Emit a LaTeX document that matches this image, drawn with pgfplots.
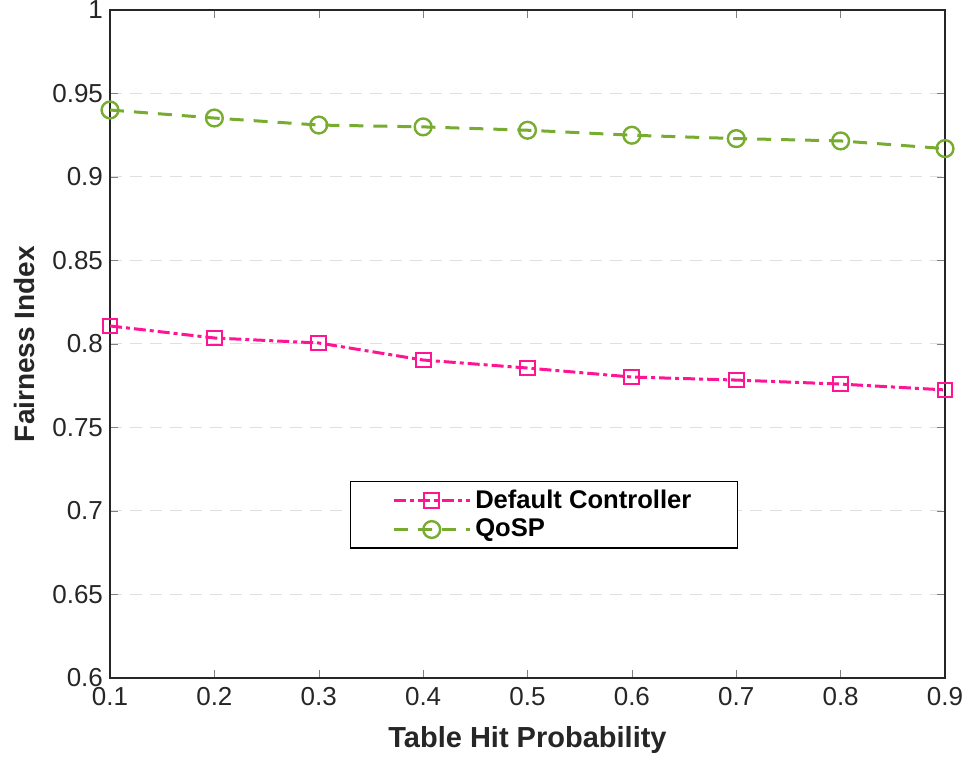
\documentclass[border=0pt]{standalone}
\usepackage{pgfplots}
\pgfplotsset{compat=1.18}
\usepackage{fontspec}
\setmainfont{Liberation Sans}
\definecolor{defpink}{RGB}{255,20,147}
\definecolor{qosgreen}{RGB}{119,172,48}
\definecolor{tickgray}{RGB}{38,38,38}

\begin{document}
\begin{tikzpicture}
\begin{axis}[
    scale only axis,
    width=417.5pt,
    height=334pt,
    xmin=0.1, xmax=0.9,
    ymin=0.6, ymax=1,
    xtick={0.1,0.2,...,0.9},
    ytick={0.6,0.65,...,1.0},
    yticklabels={0.6,0.65,0.7,0.75,0.8,0.85,0.9,0.95,1},
    xticklabel style={/pgf/number format/fixed, yshift=-1pt},
    /pgf/number format/assume math mode=true,
    tick label style={font=\fontsize{13}{15}\selectfont, text=tickgray},
    tick align=inside,
    major tick length=4pt,
    axis line style={tickgray, line width=0.6pt},
    ymajorgrids,
    grid style={dash pattern=on 6pt off 4pt, gray!25, line width=0.5pt},
    xlabel={\textbf{Table Hit Probability}},
    ylabel={\textbf{Fairness Index}},
    xlabel style={font=\fontsize{14.5}{16}\selectfont, text=tickgray,
        at={(axis description cs:0.5,-0.093)}, anchor=center},
    ylabel style={font=\fontsize{14}{16}\selectfont, text=tickgray,
        at={(axis description cs:-0.102,0.5)}, anchor=center},
    legend style={at={(0.287,0.295)}, anchor=north west,
        font=\fontsize{12.8}{15}\selectfont\bfseries,
        draw=black, line width=0.6pt,
        inner xsep=21pt, inner ysep=2pt, row sep=0pt},
    legend cell align=left,
    legend image code/.code={
        \draw[mark repeat=2,mark phase=2]
        plot coordinates {(0pt,0pt) (19pt,0pt) (38pt,0pt)};},
]
\addplot[color=defpink, line width=1.5pt, dash pattern=on 6pt off 2pt on 2pt off 2pt,
    mark=square, mark size=3.7pt, mark options={solid, line width=1pt}]
coordinates {
    (0.1,0.8108) (0.2,0.8036) (0.3,0.8006) (0.4,0.7904) (0.5,0.7856)
    (0.6,0.7802) (0.7,0.7784) (0.8,0.7760) (0.9,0.7725)
};
\addlegendentry{Default Controller}
\addplot[color=qosgreen, line width=1.5pt, dash pattern=on 7pt off 5pt,
    mark=o, mark size=4.2pt, mark options={solid, line width=1.2pt}]
coordinates {
    (0.1,0.9401) (0.2,0.9353) (0.3,0.9311) (0.4,0.9300) (0.5,0.9280)
    (0.6,0.9250) (0.7,0.9230) (0.8,0.9216) (0.9,0.9170)
};
\addlegendentry{QoSP}
\end{axis}
\pgfresetboundingbox
\path ([xshift=-55pt,yshift=-39.5pt]current axis.south west)
    rectangle ([xshift=9.5pt,yshift=5pt]current axis.north east);
\end{tikzpicture}
\end{document}
